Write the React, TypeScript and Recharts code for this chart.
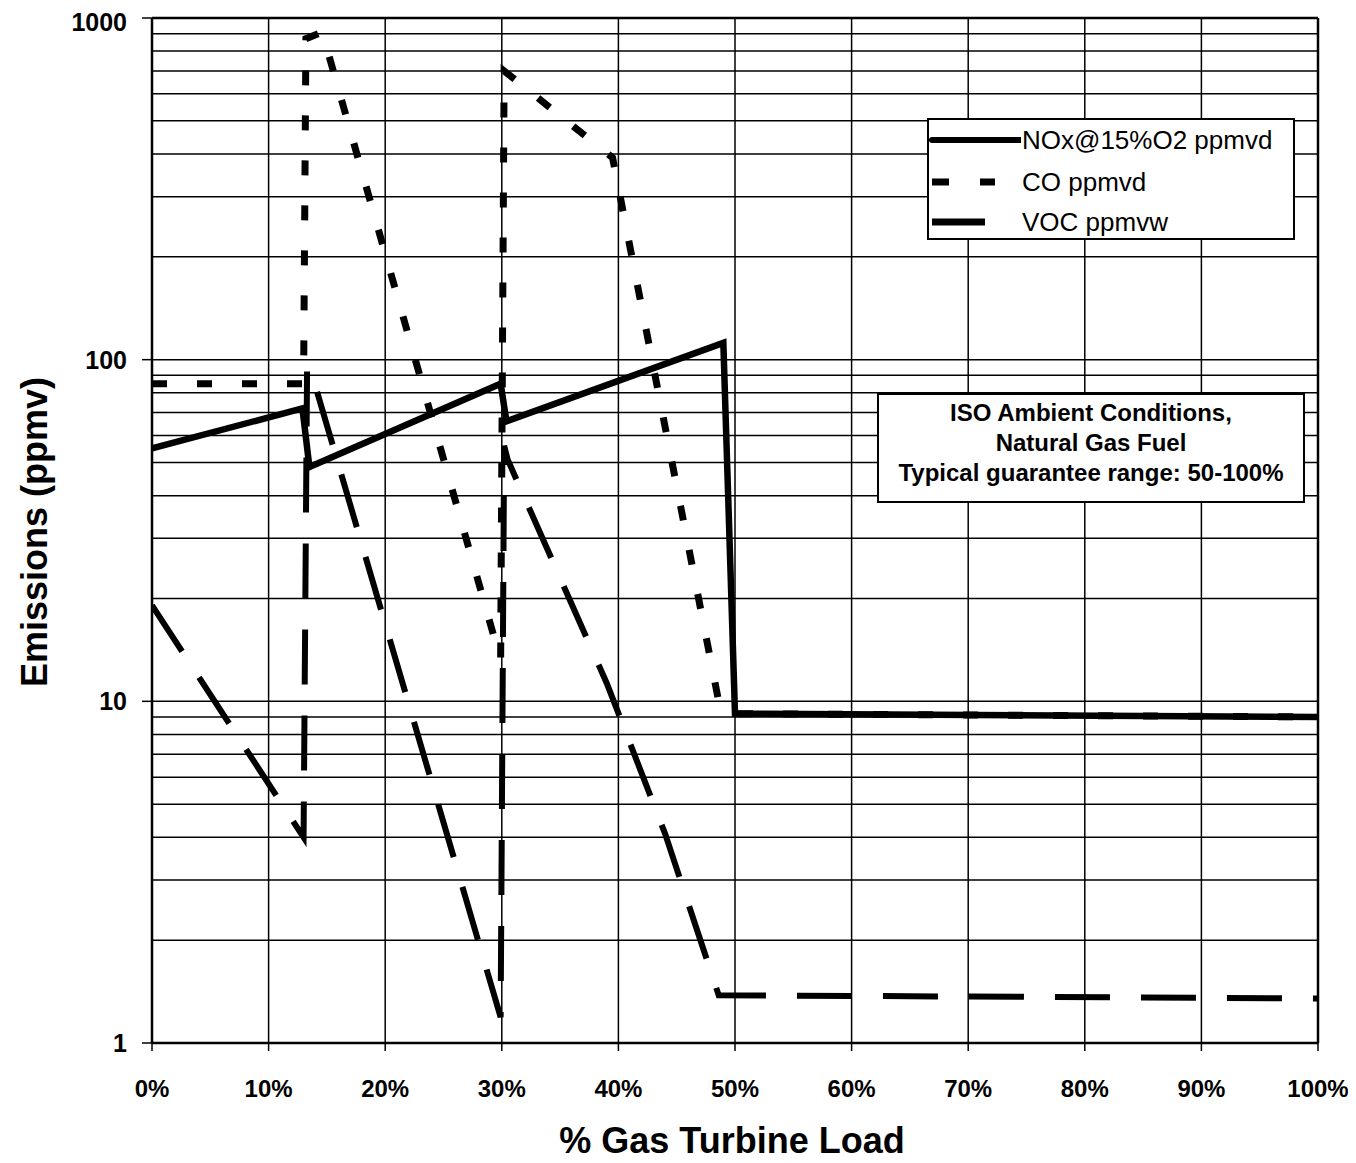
import React from 'react';
import { LineChart, Line, XAxis, YAxis, CartesianGrid, ReferenceLine } from 'recharts';

// ---- data ----
const loadTicks = [0, 10, 20, 30, 40, 50, 60, 70, 80, 90, 100];
const ppmTicks = [1, 10, 100, 1000];
const minorGrid = [2, 3, 4, 5, 6, 7, 8, 9, 10, 20, 30, 40, 50, 60, 70, 80, 90, 100, 200, 300, 400, 500, 600, 700, 800, 900];

const noxLoad = [0, 12.9, 13.5, 29.9, 30.4, 49, 50, 100];
const noxPpm = [55, 72, 48.5, 85, 66, 112, 9.2, 9.0];

const coLoad = [0, 13, 13.2, 14.6, 29.9, 30.2, 39.5, 48.7, 50, 100];
const coPpm = [85, 85, 870, 910, 13.2, 700, 390, 9.6, 9.2, 9.0];

const vocLoad = [0, 13, 13.3, 13.7, 29.9, 30.2, 30.5, 39, 44, 48.6, 100];
const vocPpm = [19.1, 4.0, 95, 91, 1.19, 56, 51, 11.3, 4.1, 1.38, 1.35];

const legendItems = ['NOx@15%O2 ppmvd', 'CO ppmvd', 'VOC ppmvw'];
const noteLines = ['ISO Ambient Conditions,', 'Natural Gas Fuel', 'Typical guarantee range: 50-100%'];

const toRows = (xs: number[], ys: number[]) => xs.map((x, i) => ({ load: x, v: ys[i] }));
const noxData = toRows(noxLoad, noxPpm);
const coData = toRows(coLoad, coPpm);
const vocData = toRows(vocLoad, vocPpm);

const FONT = '"Liberation Sans", Arial, Helvetica, sans-serif';

const fmtY = (v: number) => String(v);
const fmtX = (v: number) => `${v}%`;

export default function App() {
  return (
    <div style={{ position: 'relative', width: 1340, height: 1150, fontFamily: FONT, background: '#fff' }}>
      <style>{'.recharts-surface{overflow:visible}'}</style>
      <LineChart width={1340} height={1150} margin={{ top: 10, right: 30, left: 0, bottom: 75 }}>
        <CartesianGrid horizontal={false} stroke="#000" strokeWidth={1.5} strokeOpacity={1} />
        <XAxis
          dataKey="load"
          type="number"
          domain={[0, 100]}
          ticks={loadTicks}
          tickFormatter={fmtX}
          allowDataOverflow
          height={40}
          tickSize={8}
          tickMargin={29}
          axisLine={{ stroke: '#000', strokeWidth: 2.5 }}
          tickLine={{ stroke: '#000', strokeWidth: 1.5 }}
          tick={{ fill: '#000', fontSize: 24, fontWeight: 'bold', fontFamily: FONT }}
        />
        <YAxis
          type="number"
          scale="log"
          domain={[1, 1000]}
          ticks={ppmTicks}
          tickFormatter={fmtY}
          allowDataOverflow
          width={144}
          tickSize={10}
          tickMargin={15}
          axisLine={{ stroke: '#000', strokeWidth: 2.5 }}
          tickLine={{ stroke: '#000', strokeWidth: 1.5 }}
          tick={{ fill: '#000', fontSize: 25, fontWeight: 'bold', fontFamily: FONT }}
        />
        {minorGrid.map((g) => (
          <ReferenceLine key={`g${g}`} y={g} stroke="#000" strokeWidth={1.5} />
        ))}
        <ReferenceLine y={1000} stroke="#000" strokeWidth={2.5} />
        <ReferenceLine x={100} stroke="#000" strokeWidth={2.5} />
        <Line
          data={vocData}
          dataKey="v"
          type="linear"
          stroke="#000"
          strokeWidth={6}
          strokeDasharray="55 31"
          dot={false}
          activeDot={false}
          isAnimationActive={false}
        />
        <Line
          data={coData}
          dataKey="v"
          type="linear"
          stroke="#000"
          strokeWidth={7}
          strokeDasharray="15 30"
          dot={false}
          activeDot={false}
          isAnimationActive={false}
        />
        <Line
          data={noxData}
          dataKey="v"
          type="linear"
          stroke="#000"
          strokeWidth={6.5}
          dot={false}
          activeDot={false}
          isAnimationActive={false}
        />
      </LineChart>

      {/* axis titles */}
      <div
        style={{
          position: 'absolute', left: 27, top: 524, transform: 'translate(-50%, -50%) rotate(-90deg)',
          whiteSpace: 'nowrap', fontWeight: 'bold', fontSize: 36, color: '#000',
        }}
      >
        Emissions (ppmv)
      </div>
      <div
        style={{
          position: 'absolute', left: 724, top: 1133, transform: 'translate(-50%, -50%)',
          whiteSpace: 'nowrap', fontWeight: 'bold', fontSize: 36, color: '#000',
        }}
      >
        % Gas Turbine Load
      </div>

      {/* legend */}
      <div
        style={{
          position: 'absolute', left: 919, top: 110, width: 368, height: 122, boxSizing: 'border-box',
          border: '2px solid #000', background: '#fff',
        }}
      >
        {legendItems.map((name, i) => (
          <div key={name} style={{ position: 'absolute', left: 0, top: [20, 62, 102][i] - 15, height: 30, width: 364 }}>
            <svg width={92} height={30} style={{ position: 'absolute', left: 0, top: 0 }}>
              {i === 0 && <line x1={3} y1={15} x2={91} y2={15} stroke="#000" strokeWidth={6} strokeLinecap="round" />}
              {i === 1 && (
                <line x1={3} y1={15} x2={66} y2={15} stroke="#000" strokeWidth={7} strokeDasharray="17 31" />
              )}
              {i === 2 && <line x1={3} y1={15} x2={56} y2={15} stroke="#000" strokeWidth={7} />}
            </svg>
            <div
              style={{
                position: 'absolute', left: 93, top: 0, height: 30, lineHeight: '30px', fontSize: 26,
                color: '#000', whiteSpace: 'nowrap',
              }}
            >
              {name}
            </div>
          </div>
        ))}
      </div>

      {/* note box */}
      <div
        style={{
          position: 'absolute', left: 869, top: 385, width: 428, height: 110, boxSizing: 'border-box',
          border: '2px solid #000', background: '#fff', textAlign: 'center', fontSize: 24, fontWeight: 'bold',
          lineHeight: '30px', paddingTop: 3, color: '#000',
        }}
      >
        {noteLines.map((t) => (
          <div key={t} style={{ whiteSpace: 'nowrap' }}>{t}</div>
        ))}
      </div>
    </div>
  );
}
